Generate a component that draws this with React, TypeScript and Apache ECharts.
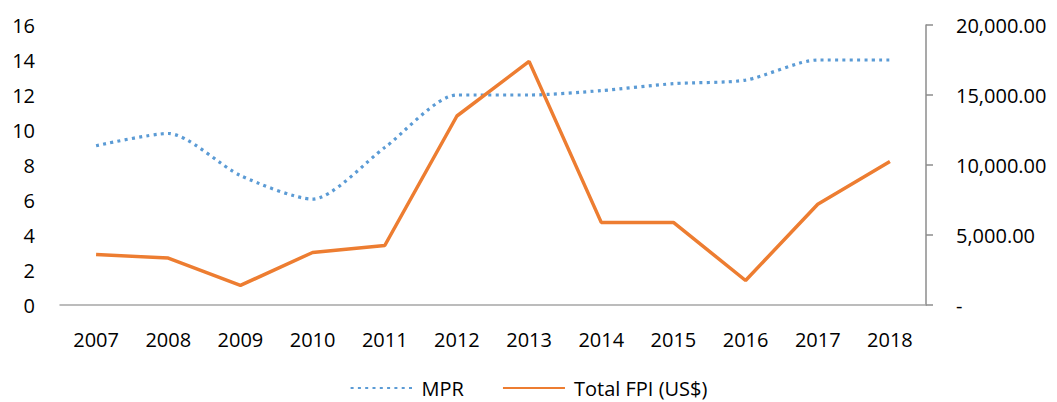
import React, { useEffect, useRef } from "react";
import * as echarts from "echarts";

const years = ["2007", "2008", "2009", "2010", "2011", "2012", "2013", "2014", "2015", "2016", "2017", "2018"];
const mpr = [9.1, 9.8, 7.4, 6.05, 9.0, 12.0, 12.0, 12.25, 12.65, 12.85, 14.0, 14.0];
const fpi = [3600, 3350, 1400, 3750, 4250, 13500, 17400, 5900, 5900, 1750, 7200, 10250];
const leftTicks = { min: 0, max: 16, interval: 2 };
const rightTicks = { min: 0, max: 20000, interval: 5000 };

const FONT = "'Open Sans', sans-serif";
const FS = 20;

function fmt(v: number): string {
  if (v === 0) return "-";
  const s = v.toFixed(2);
  const [i, d] = s.split(".");
  return i.replace(/\B(?=(\d{3})+(?!\d))/g, ",") + "." + d;
}

export default function App() {
  const ref = useRef<HTMLDivElement>(null);
  useEffect(() => {
    if (!ref.current) return;
    const chart = echarts.init(ref.current, null, { renderer: "svg" });
    chart.setOption({
      animation: false,
      textStyle: { fontFamily: FONT },
      grid: { left: 60, right: 131, top: 25, bottom: 97, containLabel: false },
      legend: {
        data: ["MPR", "Total FPI (US$)"],
        left: "center",
        top: 373,
        itemWidth: 62,
        itemHeight: 14,
        itemGap: 38,
        itemStyle: { opacity: 0 },
        textStyle: { fontSize: FS, color: "#000", fontFamily: FONT, padding: [0, 0, 0, 4] },
      },
      xAxis: {
        type: "category",
        data: years,
        boundaryGap: true,
        axisLine: { show: true, lineStyle: { color: "#a6a6a6", width: 1.5 } },
        axisTick: { show: false },
        axisLabel: { color: "#000", fontSize: FS, margin: 24, fontFamily: FONT },
      },
      yAxis: [
        {
          type: "value",
          ...leftTicks,
          position: "left",
          axisLine: { show: false },
          axisTick: { show: false },
          splitLine: { show: false },
          axisLabel: { color: "#000", fontSize: FS, margin: 25, fontFamily: FONT },
        },
        {
          type: "value",
          ...rightTicks,
          position: "right",
          axisLine: { show: true, lineStyle: { color: "#8c8c8c", width: 1.5 } },
          axisTick: { show: true, inside: false, length: 7, lineStyle: { color: "#8c8c8c", width: 1.5 } },
          splitLine: { show: false },
          axisLabel: { color: "#000", fontSize: FS, margin: 30, fontFamily: FONT, formatter: fmt },
        },
      ],
      series: [
        {
          name: "MPR",
          type: "line",
          yAxisIndex: 0,
          data: mpr,
          smooth: 0.25,
          symbol: "none",
          itemStyle: { color: "#5b9bd5" },
          lineStyle: { color: "#5b9bd5", width: 3.2, type: [3, 4.3] },
        },
        {
          name: "Total FPI (US$)",
          type: "line",
          yAxisIndex: 1,
          data: fpi,
          symbol: "none",
          itemStyle: { color: "#ed7d31" },
          lineStyle: { color: "#ed7d31", width: 3.5 },
        },
      ],
    });
    return () => chart.dispose();
  }, []);
  return <div ref={ref} style={{ width: 1057, height: 402, position: "absolute", left: 0, top: 0 }} />;
}
